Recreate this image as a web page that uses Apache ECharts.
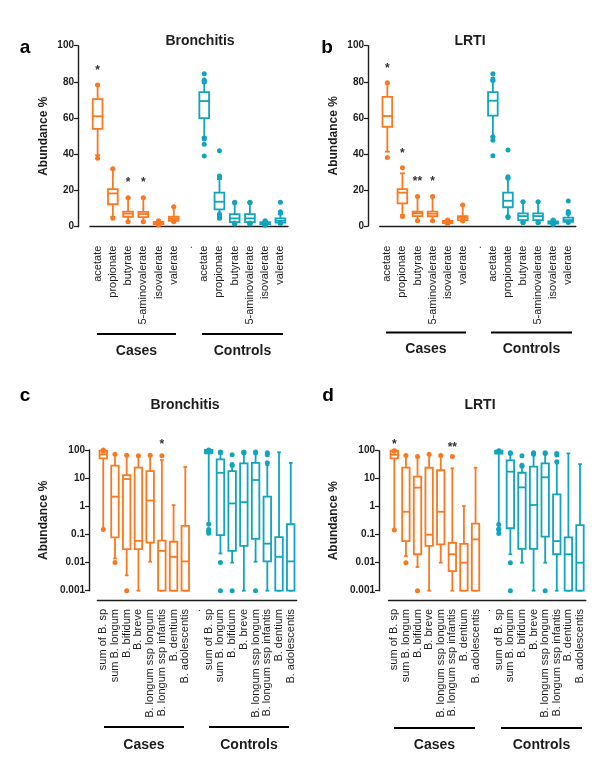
<!DOCTYPE html>
<html><head><meta charset="utf-8">
<script src="https://cdn.jsdelivr.net/npm/echarts@6/dist/echarts.min.js"></script>
<style>html,body{margin:0;padding:0;background:#fff}#c{width:597px;height:758px}</style>
</head><body><div id="c"></div>
<script>
// ---------- categories ----------
const scfaNames = ['acetate','propionate','butyrate','5-aminovalerate','isovalerate','valerate'];
const bifidoNames = ['sum of B. sp','sum B. longum','B. bifidum','B. breve','B. longum ssp longum','B. longum ssp infantis','B. dentium','B. adolescentis'];
const gapLabel = '.';
const groupNames = ['Cases','Controls'];
const panelTitles = ['Bronchitis','LRTI','Bronchitis','LRTI'];
const panelLetters = ['a','b','c','d'];
const logTickLabels = ['0.001','0.01','0.1','1','10','100'];

// ---------- box stats: [min, Q1, median, Q3, max] ----------
const aCases = [[39.5,54,61,70.5,78.3],[5.5,12.4,18.4,20.8,31.7],[2.8,5.5,7.2,8.3,16],[2.8,5.3,7,8.2,16],[1,1.5,2,2.6,3.3],[2.8,3.3,4.4,5.5,11]];
const aControls = [[49.4,60,69.4,74.4,79.6],[5.2,9.6,13.8,18.8,26.3],[1.5,2.5,4.6,7,13.3],[1.5,2.5,4.6,7,13.3],[1,1.5,2,2.5,3.3],[1.9,2.3,3.3,4.6,7]];
const bCases = [[41.2,55,61,71.6,79.2],[6.1,12.6,18.5,20.4,29.2],[2.9,5.5,7,7.9,16.3],[2.9,5.4,6.8,8,16.3],[1.2,1.6,2.2,2.8,3.4],[2.8,3.3,4.6,5.5,11.6]];
const bControls = [[49.5,61.2,69.5,74.3,80.4],[5.2,10.4,14,18.5,26.4],[1.8,3.3,5.5,7,13.5],[1.8,3.3,5.5,7,13.5],[1,1.4,2,2.6,3.3],[1.9,2.3,3.3,4.6,7]];
const cCases = [[0.15,50,70,95,100],[0.014,0.079,2.2,27.7,70],[0.0035,0.03,9.3,12.9,65],[0.001,0.03,0.059,23.5,62],[0.0107,0.051,1.6,17.8,65],[0.001,0.001,0.026,0.06,44],[0.001,0.001,0.016,0.055,1.1],[0.001,0.001,0.011,0.2,25]];
const cControls = [[0.25,76,87,100,100],[0.021,0.095,15.5,46.5,80],[0.01,0.026,1.26,17.8,33.7],[0.001,0.039,1.4,33.6,80],[0.0107,0.07,8.6,35,80],[0.001,0.011,0.047,2.2,29],[0.001,0.001,0.016,0.08,83],[0.001,0.001,0.011,0.23,35]];
const dCases = [[0.147,53,72,100,100],[0.017,0.059,0.66,25,68],[0.007,0.02,4.8,11.8,62],[0.001,0.04,0.1,24.6,75],[0.01,0.045,0.66,20,68],[0.001,0.005,0.02,0.051,23.4],[0.001,0.001,0.01,0.047,1.05],[0.001,0.001,0.068,0.25,24.7]];
const dControls = [[0.23,78,90,100,100],[0.02,0.17,17.8,45,80],[0.01,0.031,4.9,16.3,30],[0.001,0.031,1.15,27,80],[0.01,0.085,11.2,35,80],[0.001,0.02,0.059,2.75,35],[0.001,0.001,0.02,0.08,80],[0.001,0.001,0.01,0.22,33]];

// ---------- individual points outside whiskers ----------
const aCasesPts = [[78.3,37.8],[32,4.6],[16,2.8],[16,2.8],[1,1.6,2.3,2.8,3.3],[11,2.8,3.4]];
const aControlsPts = [[80.5,81,84.5,80,49,48.5,45.5,39],[27.5,28,42,5,4.6,6,7],[13.3,13.5,1.5,2,1.8],[13.3,13.5,1.5,2,1.8],[0.8,1.2,1.6,2,2.4,2.8,3.3],[13.5,8.3,7.4,1.8,2]];
const bCasesPts = [[79.5,38],[32.3,5.2],[16.3,2.9],[16.3,2.9],[1.2,1.8,2.6,3.3],[11.6,2.8,3.3]];
const bControlsPts = [[81.5,80.7,84.5,49.5,47.6,39],[27.3,26.5,42.2,4.7,5.2],[13.5,1.8,2.2],[13.5,1.8,2.2],[0.8,1.2,1.6,2,2.4,2.8,3.3],[13.9,8.1,7,1.9]];
const cCasesPts = [[0.15,90,100],[70,0.01],[65,0.001],[62],[65],[62],[],[]];
const cControlsPts = [[0.23,0.15,0.13,0.11,95,100],[80,82,85,0.01,0.001],[68,30,28,0.001],[80,85,82],[80,85,0.001],[35,68,80],[],[]];
const dCasesPts = [[0.147,95,100],[68,0.01],[62,0.001],[75],[68],[62],[],[]];
const dControlsPts = [[0.23,0.16,0.15,0.11,95,100],[80,85,0.01,0.001],[28,30,66],[80,75,85],[80,85,0.001],[80,70,40],[],[]];

// ---------- significance marks: [categoryIndex, value, number of stars] ----------
const aStars = [[0,88,1],[2,26,1],[3,26,1]];
const bStars = [[0,88.7,1],[1,41.8,1],[2,26,2],[3,26,1]];
const cStars = [[5,200,1]];
const dStars = [[0,210,1],[5,160,2]];

const ORANGE = '#FA7820';
const TEAL = '#10A4BE';
const INK = '#1c1c1c';
const FONT = '"Liberation Sans", Arial, sans-serif';

function boxRender(color){
  return function(params, api){
    const x = api.value(0);
    const lo = api.coord([x, api.value(1)]);
    const q1 = api.coord([x, api.value(2)]);
    const md = api.coord([x, api.value(3)]);
    const q3 = api.coord([x, api.value(4)]);
    const hi = api.coord([x, api.value(5)]);
    const nxt = api.coord([x + 1, api.value(3)]);
    const band = Math.abs(nxt[0] - md[0]);
    const bw = band * 0.64;
    const cap = bw * 0.5;
    const cx = md[0];
    const st = {stroke: color, lineWidth: 1.8, fill: null};
    return {type:'group', children:[
      {type:'line', shape:{x1:cx,y1:lo[1],x2:cx,y2:q1[1]}, style:st},
      {type:'line', shape:{x1:cx,y1:q3[1],x2:cx,y2:hi[1]}, style:st},
      {type:'line', shape:{x1:cx-cap/2,y1:lo[1],x2:cx+cap/2,y2:lo[1]}, style:st},
      {type:'line', shape:{x1:cx-cap/2,y1:hi[1],x2:cx+cap/2,y2:hi[1]}, style:st},
      {type:'rect', shape:{x:cx-bw/2, y:q3[1], width:bw, height:Math.max(q1[1]-q3[1],0.5)}, style:{stroke:color, lineWidth:1.8, fill:'#fff'}},
      {type:'line', shape:{x1:cx-bw/2,y1:md[1],x2:cx+bw/2,y2:md[1]}, style:st}
    ]};
  };
}
function starRender(params, api){
  const p = api.coord([api.value(0), api.value(1)]);
  return {type:'text', x:p[0], y:p[1]+3, style:{text:'*'.repeat(api.value(2)), fill:'#333', font:'bold 12px ' + FONT, align:'center', verticalAlign:'middle'}};
}

function boxData(cases, controls){
  const n = cases.length;
  return [cases.map((s,i)=>[i].concat(s)), controls.map((s,i)=>[i+n+1].concat(s))];
}
function ptData(cases, controls){
  const n = cases.length, out = [[],[]];
  cases.forEach((arr,i)=>arr.forEach(v=>out[0].push([i,v])));
  controls.forEach((arr,i)=>arr.forEach(v=>out[1].push([i+n+1,v])));
  return out;
}

const panels = [
  {names: scfaNames, cases:aCases, controls:aControls, cp:aCasesPts, tp:aControlsPts, stars:aStars, log:false,
   grid:{left:90, top:45.7, width:198, height:181}, yOff:12, xOff:10, nameGap:28},
  {names: scfaNames, cases:bCases, controls:bControls, cp:bCasesPts, tp:bControlsPts, stars:bStars, log:false,
   grid:{left:379.8, top:45.7, width:196, height:180.3}, yOff:11.8, xOff:10.7, nameGap:28},
  {names: bifidoNames, cases:cCases, controls:cControls, cp:cCasesPts, tp:cControlsPts, stars:cStars, log:true,
   grid:{left:97.4, top:450, width:199.2, height:140.7}, yOff:8.4, xOff:9.3, nameGap:39},
  {names: bifidoNames, cases:dCases, controls:dControls, cp:dCasesPts, tp:dControlsPts, stars:dStars, log:true,
   grid:{left:388.5, top:450.7, width:197.3, height:140}, yOff:9.5, xOff:9.3, nameGap:39}
];

const grids = [], xAxes = [], yAxes = [], series = [];
panels.forEach((p, k) => {
  grids.push(p.grid);
  xAxes.push({
    type:'category', gridIndex:k, data: p.names.concat([gapLabel], p.names), offset:p.xOff,
    axisLine:{lineStyle:{color:INK, width:1.4}},
    axisTick:{alignWithLabel:true, length:3, lineStyle:{color:INK, width:1.2}},
    axisLabel:{interval:0, rotate:90, fontSize:11, color:INK, fontFamily:FONT, margin:9},
    splitLine:{show:false}
  });
  const y = {
    gridIndex:k, offset:p.yOff, name:'Abundance %', nameLocation:'middle', nameGap:p.nameGap,
    nameTextStyle:{fontSize:12, fontWeight:'bold', color:INK, fontFamily:FONT},
    axisLine:{show:true, lineStyle:{color:INK, width:1.4}},
    axisTick:{show:true, length:4, lineStyle:{color:INK, width:1.2}},
    axisLabel:{fontSize:10, fontWeight:'bold', color:INK, fontFamily:FONT, margin:4},
    splitLine:{show:false}
  };
  if (p.log) {
    Object.assign(y, {type:'log', logBase:10, min:0.001, max:100});
    y.axisLabel.formatter = v => logTickLabels[Math.round(Math.log10(v)) + 3];
  } else {
    Object.assign(y, {type:'value', min:0, max:100, interval:20});
  }
  yAxes.push(y);
  const bd = boxData(p.cases, p.controls);
  const pd = ptData(p.cp, p.tp);
  [ORANGE, TEAL].forEach((col, g) => {
    series.push({type:'custom', xAxisIndex:k, yAxisIndex:k, renderItem:boxRender(col), data:bd[g], clip:false, z:2});
    series.push({type:'scatter', xAxisIndex:k, yAxisIndex:k, data:pd[g], symbolSize:5, itemStyle:{color:col, opacity:1}, clip:false, z:3, silent:true});
  });
  series.push({type:'custom', xAxisIndex:k, yAxisIndex:k, renderItem:starRender, data:p.stars, clip:false, z:4});
});

// decorations: titles, panel letters, group brackets
const titlePos = [[200,41],[470,41],[185,405],[480,405]];
const letterPos = [[25,48],[327,48],[25,396],[328,396]];
const lineY = [334,332.5,727,728];
const textY = [351.5,349.5,745,745];
const caseSpan = [[97,176],[386,466],[104,184],[394,475]];
const ctrlSpan = [[202,283],[491,572],[209,289],[501,582]];
const graphic = [];
for (let k=0;k<4;k++){
  graphic.push({type:'text', x:titlePos[k][0], y:titlePos[k][1], style:{text:panelTitles[k], font:'bold 14px '+FONT, fill:INK, align:'center', verticalAlign:'middle'}});
  graphic.push({type:'text', x:letterPos[k][0], y:letterPos[k][1], style:{text:panelLetters[k], font:'bold 19px '+FONT, fill:'#000', align:'center', verticalAlign:'middle'}});
  [caseSpan[k], ctrlSpan[k]].forEach((sp, g) => {
    graphic.push({type:'line', shape:{x1:sp[0], y1:lineY[k], x2:sp[1], y2:lineY[k]}, style:{stroke:'#000', lineWidth:1.8}});
    graphic.push({type:'text', x:(sp[0]+sp[1])/2, y:textY[k], style:{text:groupNames[g], font:'bold 14px '+FONT, fill:INK, align:'center', verticalAlign:'middle'}});
  });
}

const chart = echarts.init(document.getElementById('c'), null, {renderer:'canvas'});
chart.setOption({
  animation:false, backgroundColor:'#fff',
  textStyle:{fontFamily:FONT},
  grid:grids, xAxis:xAxes, yAxis:yAxes, series:series, graphic:graphic
});
</script></body></html>
